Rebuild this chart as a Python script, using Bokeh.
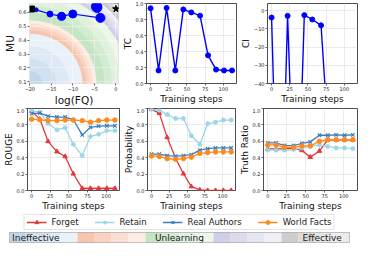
from bokeh.plotting import figure
from bokeh.layouts import column, row
from bokeh.models import Range1d, Legend, LegendItem, FixedTicker
from bokeh.embed import file_html
from bokeh.resources import INLINE
from bokeh.core.properties import value

# ---------------- data ----------------
steps = [0, 11, 22, 34, 45, 56, 68, 79, 90, 101, 112]

tc = [0.94, 0.163, 0.944, 0.163, 0.926, 0.889, 0.848, 0.352, 0.174, 0.163, 0.163]
ci = [-3.7, -160, -2.8, -140, -2.4, -4.8, -8.0, -76, -90, -95, -95]

rouge_forget = [0.97, 0.87, 0.60, 0.474, 0.415, 0.204, 0.026, 0.026, 0.026, 0.026, 0.026]
rouge_forget_spread = [0, 0, 0, 0, 0, 0.005, 0.015, 0.015, 0.015, 0.015, 0.015]
rouge_retain = [0.97, 0.955, 0.815, 0.74, 0.766, 0.563, 0.426, 0.66, 0.685, 0.73, 0.73]
rouge_real = [0.937, 0.944, 0.907, 0.896, 0.896, 0.863, 0.678, 0.77, 0.785, 0.789, 0.789]
rouge_world = [0.87, 0.863, 0.852, 0.852, 0.859, 0.859, 0.852, 0.833, 0.852, 0.859, 0.859]

prob_forget = [0.99, 0.944, 0.648, 0.389, 0.204, 0.048, 0.007, 0.0, 0.0, 0.0, 0.0]
prob_retain = [0.99, 0.98, 0.926, 0.878, 0.878, 0.667, 0.563, 0.815, 0.833, 0.859, 0.859]
prob_real = [0.444, 0.444, 0.426, 0.419, 0.426, 0.437, 0.493, 0.511, 0.519, 0.519, 0.519]
prob_world = [0.422, 0.415, 0.389, 0.381, 0.389, 0.407, 0.452, 0.463, 0.47, 0.47, 0.47]

tr_forget = [0.507, 0.507, 0.511, 0.511, 0.489, 0.407, 0.481, 0.619, 0.619, 0.619, 0.619]
tr_retain = [0.493, 0.493, 0.493, 0.50, 0.519, 0.537, 0.556, 0.537, 0.519, 0.519, 0.511]
tr_real = [0.581, 0.581, 0.548, 0.548, 0.574, 0.593, 0.674, 0.674, 0.678, 0.674, 0.678]
tr_world = [0.556, 0.556, 0.526, 0.526, 0.544, 0.544, 0.60, 0.619, 0.619, 0.619, 0.619]

# MU vs log(FQ) trajectory
traj_logfq = [-18.5, -15.3, -12.6, -10.0, -3.6, -4.4, -4.5]
traj_mu = [0.619, 0.589, 0.572, 0.589, 0.561, 0.637, 0.645]
traj_size = [4, 6, 8, 8, 9, 10, 10]
orig_logfq, orig_mu = [-19.6], [0.625]
retrain_logfq, retrain_mu = [0.0], [0.626]

# background bands (radius in MU units, outer edge of each band)
band_colors = ["#c3d7ec", "#d2e1f1", "#dfe9f6", "#eaf1f9",
               "#f7c4ad", "#f9d2c1", "#fbdfd2", "#fdece3",
               "#c6e5c5", "#d3ebd1", "#e0f1dd", "#ecf6e9",
               "#d1cfe7", "#dcdaed", "#e6e5f2", "#f0eff6",
               "#cdcdcd", "#dadada", "#e4e4e4", "#ececec"]
band_edges = [0.09, 0.18, 0.27, 0.36,
              0.384, 0.408, 0.431, 0.455,
              0.509, 0.562, 0.616, 0.67,
              0.692, 0.714, 0.735, 0.757,
              0.78, 0.80, 0.82, 1.2]
band_center = (-20.0, 0.087)
band_xscale = 34.0

series_names = ["Forget", "Retain", "Real Authors", "World Facts"]
series_colors = ["#e0393b", "#9bd6e9", "#3a7ebf", "#ff8a1c"]
series_markers = ["triangle", "asterisk", "x", "circle"]
cbar_labels = ["Ineffective", "Unlearning", "Effective"]

FONT = "DejaVu Sans"


def style(p, xlabel, ylabel, lab_size="9px"):
    p.background_fill_color = "white"
    p.border_fill_color = "white"
    p.outline_line_color = "#222222"
    p.outline_line_width = 0.8
    for ax in (p.xaxis, p.yaxis):
        ax.axis_line_color = None
        ax.major_tick_out = 2
        ax.major_tick_in = 0
        ax.major_tick_line_color = "#222222"
        ax.major_tick_line_width = 0.7
        ax.minor_tick_line_color = None
        ax.major_label_text_font = FONT
        ax.major_label_text_font_size = "5px"
        ax.major_label_text_color = "#222222"
        ax.major_label_standoff = 1
        ax.axis_label_text_font = FONT
        ax.axis_label_text_font_size = lab_size
        ax.axis_label_text_font_style = "normal"
        ax.axis_label_text_color = "#111111"
        ax.axis_label_standoff = 0
    p.xaxis.axis_label = xlabel
    p.yaxis.axis_label = ylabel
    p.grid.grid_line_color = "#e3e3e3"
    p.grid.grid_line_width = 0.7


def mk(w, h, xr, yr, left, right, top, bottom):
    return figure(width=w, height=h, x_range=xr, y_range=yr,
                  output_backend="svg", toolbar_location=None,
                  min_border_left=left, min_border_right=right,
                  min_border_top=top, min_border_bottom=bottom)


TOP_H, BOT_H = 108, 105

# ---------- panel 1: MU vs log(FQ) ----------
f1 = mk(119, TOP_H, Range1d(-20.05, 0.6), Range1d(0.087, 0.665), 23, 1, 3, 21)
for r_edge, col in sorted(zip(band_edges, band_colors), reverse=True):
    g = f1.ellipse(x=[band_center[0]], y=[band_center[1]],
                   width=[2 * band_xscale * r_edge], height=[2 * r_edge],
                   fill_color=col, line_color=None)
    g.level = "image"
f1.line(orig_logfq + traj_logfq, orig_mu + traj_mu, line_color="blue", line_width=1.2)
f1.scatter(traj_logfq, traj_mu, size=traj_size, marker="circle", fill_color="blue",
           line_color="blue")
f1.scatter(orig_logfq, orig_mu, size=6, marker="square", fill_color="black", line_color="black")
f1.scatter(retrain_logfq, retrain_mu, size=7, marker="star", fill_color="black", line_color="black")
style(f1, "log(FQ)", "MU", "10.5px")
f1.grid.grid_line_color = "white"
f1.grid.grid_line_alpha = 0.5
f1.xaxis.ticker = FixedTicker(ticks=[-20, -15, -10, -5, 0])
f1.xaxis.major_label_overrides = {-20: "\u221220", -15: "\u221215", -10: "\u221210", -5: "\u22125", 0: "0"}
f1.yaxis.ticker = FixedTicker(ticks=[0.1, 0.2, 0.3, 0.4, 0.5, 0.6])

XR = (-5.6, 118.1)

# ---------- panel 2: TC ----------
f2 = mk(118, TOP_H, Range1d(*XR), Range1d(0.0, 1.0), 23, 1, 3, 21)
f2.line(steps, tc, line_color="blue", line_width=1.4)
f2.scatter(steps, tc, size=5, marker="circle", color="blue")
style(f2, "Training steps", "TC")
f2.xaxis.ticker = FixedTicker(ticks=[0, 25, 50, 75, 100])
f2.yaxis.ticker = FixedTicker(ticks=[0.0, 0.2, 0.4, 0.6, 0.8, 1.0])
f2.yaxis.major_label_overrides = {0.0: "0.0", 0.2: "0.2", 0.4: "0.4", 0.6: "0.6", 0.8: "0.8", 1.0: "1.0"}

# ---------- panel 3: CI ----------
f3 = mk(121, TOP_H, Range1d(*XR), Range1d(-40, 4), 25, 1, 3, 21)
f3.line(steps, ci, line_color="blue", line_width=1.4)
f3.scatter(steps, ci, size=5, marker="circle", color="blue")
style(f3, "Training steps", "CI")
f3.xaxis.ticker = FixedTicker(ticks=[0, 25, 50, 75, 100])
f3.yaxis.ticker = FixedTicker(ticks=[0, -10, -20, -30, -40])
f3.yaxis.major_label_overrides = {0: "0", -10: "\u221210", -20: "\u221220", -30: "\u221230", -40: "\u221240"}


def metric_panel(w, left, right, ylabel, data, spread=None):
    f = mk(w, BOT_H, Range1d(*XR), Range1d(0.0, 1.0), left, right, 0, 21)
    if spread is not None:
        base, sd, c = spread
        f.varea(x=steps, y1=[b - s for b, s in zip(base, sd)], y2=[b + s for b, s in zip(base, sd)],
                fill_color=c, fill_alpha=0.3)
    for vals, c, m in zip(data, series_colors, series_markers):
        f.line(steps, vals, line_color=c, line_width=1.3)
        if m in ("x", "asterisk"):
            f.scatter(steps, vals, size=5, marker=m, line_color=c, line_width=1.2)
        else:
            f.scatter(steps, vals, size=4.5, marker=m, fill_color=c, line_color=c)
    style(f, "Training steps", ylabel)
    f.xaxis.ticker = FixedTicker(ticks=[0, 25, 50, 75, 100])
    f.yaxis.ticker = FixedTicker(ticks=[0.0, 0.2, 0.4, 0.6, 0.8, 1.0])
    f.yaxis.major_label_overrides = {0.0: "0.0", 0.2: "0.2", 0.4: "0.4", 0.6: "0.6", 0.8: "0.8", 1.0: "1.0"}
    return f


f4 = metric_panel(120, 23, 1, "ROUGE", [rouge_forget, rouge_retain, rouge_real, rouge_world],
                  spread=(rouge_forget, rouge_forget_spread, series_colors[0]))
f5 = metric_panel(116, 22, 1, "Probability", [prob_forget, prob_retain, prob_real, prob_world])
f6 = metric_panel(122, 24, 1, "Truth Ratio", [tr_forget, tr_retain, tr_real, tr_world])

# ---------- legend ----------
lg = figure(width=358, height=18, x_range=Range1d(0, 1), y_range=Range1d(0, 1),
            output_backend="svg", toolbar_location=None,
            min_border_left=0, min_border_right=0, min_border_top=0, min_border_bottom=0)
lg.axis.visible = False
lg.grid.visible = False
lg.outline_line_color = None
lg.background_fill_color = "white"
lg.border_fill_color = "white"
items = []
for name, c, m in zip(series_names, series_colors, series_markers):
    lr = lg.line([-5, -4], [-5, -5], line_color=c, line_width=1.3)
    if m in ("x", "asterisk"):
        sr = lg.scatter([-5], [-5], size=5, marker=m, line_color=c, line_width=1.2)
    else:
        sr = lg.scatter([-5], [-5], size=4.5, marker=m, fill_color=c, line_color=c)
    items.append(LegendItem(label=name, renderers=[lr, sr]))
leg = Legend(items=items, orientation="horizontal", location="center",
             label_text_font=FONT, label_text_font_size="8.5px", label_text_color="#222222",
             glyph_width=20, glyph_height=10, label_height=10, label_standoff=5,
             spacing=16, padding=2, margin=0,
             border_line_color="#c8c8c8", border_line_width=1,
             background_fill_color="white", background_fill_alpha=1)
lg.add_layout(leg, "center")

# ---------- colour bar ----------
cb = figure(width=358, height=13, x_range=Range1d(0, len(band_colors)), y_range=Range1d(0, 1),
            output_backend="svg", toolbar_location=None,
            min_border_left=9, min_border_right=9, min_border_top=1, min_border_bottom=2)
cb.axis.visible = False
cb.grid.visible = False
cb.outline_line_color = "#9a9a9a"
cb.outline_line_width = 0.8
idx = list(range(len(band_colors)))
cb.quad(left=idx, right=[i + 1 for i in idx], bottom=0, top=1, fill_color=band_colors, line_color=None)
cb.text(x=[0.15], y=[0.45], text=[cbar_labels[0]], text_font=value(FONT), text_font_size="9px",
        text_baseline="middle", text_align="left", text_color="#222222")
cb.text(x=[10.0], y=[0.45], text=[cbar_labels[1]], text_font=value(FONT), text_font_size="9px",
        text_baseline="middle", text_align="center", text_color="#222222")
cb.text(x=[19.55], y=[0.45], text=[cbar_labels[2]], text_font=value(FONT), text_font_size="9px",
        text_baseline="middle", text_align="right", text_color="#222222")

layout = column(row(f1, f2, f3), row(f4, f5, f6), lg, cb)
open("out.html", "w").write(file_html(layout, INLINE))
